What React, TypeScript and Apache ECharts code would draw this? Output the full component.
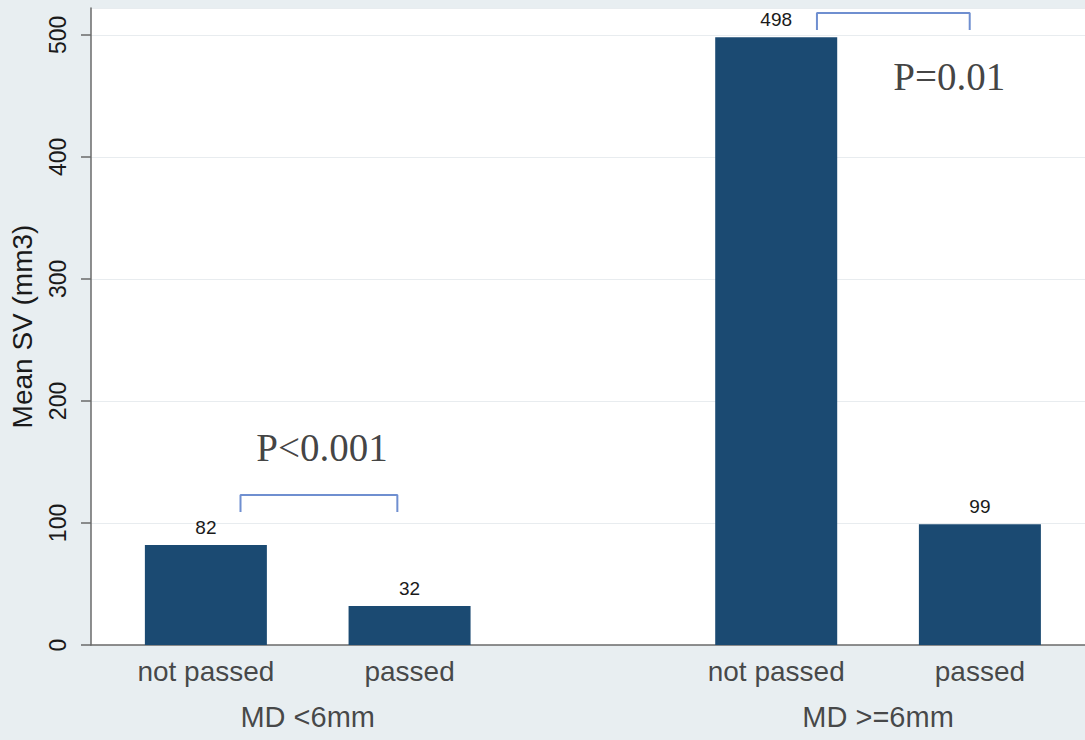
import React, { useEffect, useRef } from "react";
import * as echarts from "echarts";

// ---- data ----
const groups = ["MD <6mm", "MD >=6mm"];
const subgroups = ["not passed", "passed"];
const meanSV = [
  [82, 32],
  [498, 99],
];
const groupStart = [0, 2.8]; // slot of first bar of each group on the x scale
const pLabels = ["P<0.001", "P=0.01"];
const pLabelAt = [
  [0.57, 162],
  [3.65, 466],
];
// brackets: [xLeft, xRight, yTop, yLeg]
const brackets = [
  [0.17, 0.94, 123, 109],
  [3.0, 3.75, 518, 504],
];
const yTickValues = [0, 100, 200, 300, 400, 500];

export default function App() {
  const ref = useRef<HTMLDivElement>(null);
  useEffect(() => {
    if (!ref.current) return;
    const chart = echarts.init(ref.current, undefined, { renderer: "svg" });

    const barData: any[] = [];
    const catLabelData: any[] = [];
    groups.forEach((g, gi) => {
      subgroups.forEach((s, si) => {
        const x = groupStart[gi] + si;
        barData.push([x, meanSV[gi][si]]);
        catLabelData.push({ value: [x, 0], name: s });
      });
    });
    const groupLabelData = groups.map((g, gi) => ({
      value: [groupStart[gi] + (subgroups.length - 1) / 2, 0],
      name: g,
    }));
    const pData = pLabels.map((p, i) => ({ value: pLabelAt[i], name: p }));

    const bracketSeries = brackets.map((b) => ({
      type: "line",
      data: [
        [b[0], b[3]],
        [b[0], b[2]],
        [b[1], b[2]],
        [b[1], b[3]],
      ],
      symbol: "none",
      clip: false,
      silent: true,
      lineStyle: { color: "#6f8fd0", width: 2 },
      z: 5,
    }));

    chart.setOption({
      animation: false,
      backgroundColor: "#e8eef1",
      textStyle: { fontFamily: "Liberation Sans, Arial, sans-serif" },
      grid: {
        left: 90,
        right: 0,
        top: 8,
        bottom: 95,
        show: true,
        backgroundColor: "#ffffff",
        borderWidth: 0,
      },
      xAxis: {
        type: "value",
        min: -0.564,
        max: 4.316,
        axisLine: { show: true, onZero: false, lineStyle: { color: "#6a6a6a", width: 1.5 } },
        axisTick: { show: false },
        axisLabel: { show: false },
        splitLine: { show: false },
      },
      yAxis: {
        type: "value",
        min: 0,
        max: 522,
        interval: 100,
        name: "Mean SV (mm3)",
        nameLocation: "middle",
        nameGap: 55,
        nameRotate: 90,
        nameTextStyle: { fontSize: 28, color: "#1a1a1a" },
        axisLine: { show: true, onZero: false, lineStyle: { color: "#6a6a6a", width: 1.5 } },
        axisTick: { show: true, length: 10, lineStyle: { color: "#6a6a6a", width: 1.5 } },
        axisLabel: {
          rotate: 90,
          fontSize: 23,
          color: "#1a1a1a",
          margin: 22,
          showMaxLabel: false,
          formatter: (v: number) => (yTickValues.includes(v) ? String(v) : ""),
        },
        splitLine: { show: true, lineStyle: { color: "#e8ecef", width: 1 } },
      },
      series: [
        {
          type: "bar",
          data: barData,
          barWidth: 122,
          itemStyle: { color: "#1b4a72" },
          label: {
            show: true,
            position: "top",
            distance: 8,
            fontSize: 19,
            color: "#1a1a1a",
          },
        },
        {
          type: "scatter",
          data: catLabelData,
          symbolSize: 0,
          silent: true,
          label: {
            show: true,
            position: "bottom",
            distance: 12,
            formatter: (p: any) => p.name,
            fontSize: 28,
            color: "#1a1a1a",
          },
        },
        {
          type: "scatter",
          data: groupLabelData,
          symbolSize: 0,
          silent: true,
          label: {
            show: true,
            position: "bottom",
            distance: 57,
            formatter: (p: any) => p.name,
            fontSize: 29,
            color: "#1a1a1a",
          },
        },
        {
          type: "scatter",
          data: pData,
          symbolSize: 0,
          silent: true,
          label: {
            show: true,
            position: "inside",
            formatter: (p: any) => p.name,
            fontSize: 39,
            fontFamily: "Liberation Serif, Times New Roman, serif",
            color: "#111",
          },
        },
        ...bracketSeries,
      ],
    });
    return () => chart.dispose();
  }, []);
  return (
    <div
      ref={ref}
      style={{ position: "absolute", left: 0, top: 0, width: 1085, height: 740 }}
    />
  );
}
